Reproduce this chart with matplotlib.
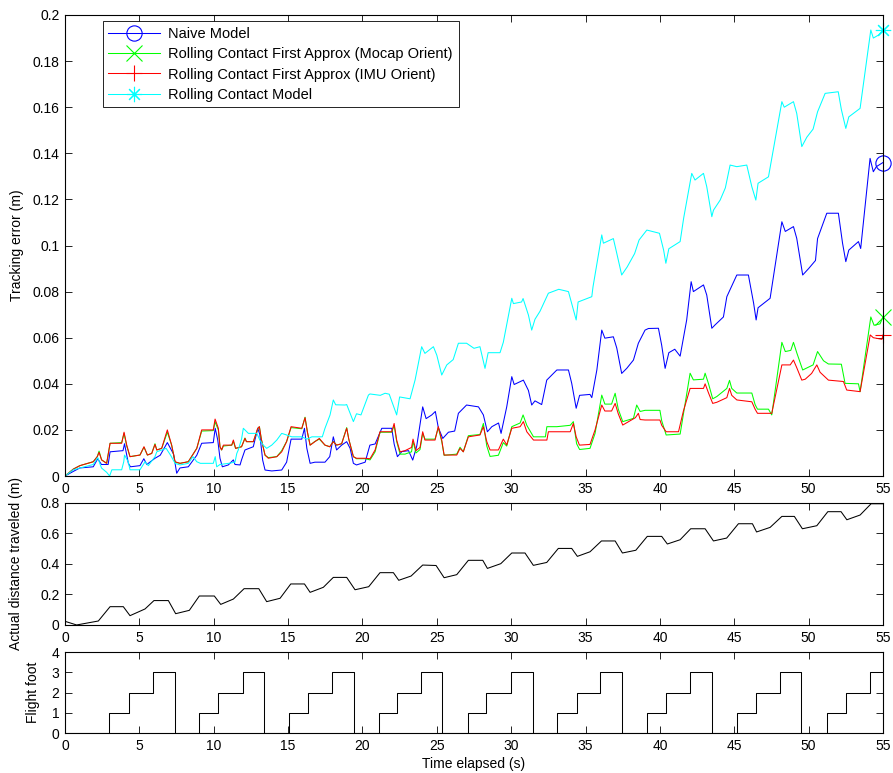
import matplotlib
matplotlib.use('Agg')
import matplotlib.pyplot as plt
from matplotlib.lines import Line2D

plt.rcParams['font.family'] = ['Liberation Sans', 'DejaVu Sans']
plt.rcParams['font.size'] = 10

# ---- tracking error (m) ----
naive_t = [0, 0.56, 1.0, 1.9, 2.2, 2.45, 2.9, 3.03, 3.9, 4.0, 4.26, 4.4, 5.04, 5.3, 5.5, 6.05, 6.4, 6.88,
           7.3, 7.51, 7.73, 8.29, 8.86, 9.19, 9.97, 10.1, 10.27, 10.42, 10.58, 10.98, 11.32, 11.43, 11.77,
           11.87, 12.1, 12.66, 12.96, 13.1, 13.29, 13.45, 13.9, 14.57, 14.9, 15.2, 15.92, 16.1, 16.26, 16.48,
           16.8, 17.48, 17.8, 18.04, 18.26, 18.6, 18.94, 19.17, 19.39, 19.6, 20.18, 20.5, 20.85, 21.3, 21.97,
           22.13, 22.35, 22.65, 23.1, 23.38, 23.65, 24.05, 24.28, 24.66, 24.9, 25.1, 25.4, 25.78, 26.2, 26.45,
           27.0, 27.8, 28.13, 28.4, 28.7, 29.15, 29.32, 29.7, 30.04, 30.2, 30.82, 31.16, 31.38, 31.6, 32.05,
           32.39, 33.07, 33.85, 34.07, 34.37, 34.6, 35.3, 35.42, 35.76, 36.09, 36.3, 36.87, 37.1, 37.43, 37.77,
           38.22, 38.55, 39.0, 39.23, 39.9, 40.12, 40.35, 40.6, 41.0, 41.36, 41.8, 42.1, 42.25, 42.93, 43.15,
           43.49, 43.7, 44.27, 44.5, 45.17, 45.95, 46.3, 46.47, 46.6, 47.41, 48.2, 48.43, 48.98, 49.2, 49.6,
           50.0, 50.46, 50.6, 51.22, 52.0, 52.28, 52.5, 52.7, 53.35, 53.5, 54.13, 54.35, 54.55, 55.0]
naive_err = [0, 0.002, 0.0035, 0.004, 0.0075, 0.005, 0.005, 0.0105, 0.011, 0.014, 0.0055, 0.004, 0.0045,
             0.0075, 0.005, 0.0077, 0.009, 0.0145, 0.0095, 0.0012, 0.0035, 0.004, 0.009, 0.0142, 0.0145, 0.0207,
             0.0156, 0.0077, 0.004, 0.0048, 0.007, 0.005, 0.0048, 0.007, 0.0113, 0.0127, 0.0207, 0.018, 0.0069,
             0.0026, 0.0022, 0.0026, 0.006, 0.016, 0.016, 0.0207, 0.012, 0.0055, 0.006, 0.006, 0.0084, 0.017,
             0.0113, 0.0134, 0.0149, 0.012, 0.0055, 0.0048, 0.006, 0.0134, 0.0139, 0.0207, 0.0207, 0.0139,
             0.0084, 0.0106, 0.011, 0.0069, 0.013, 0.030, 0.0249, 0.0265, 0.028, 0.021, 0.0163, 0.019, 0.0195,
             0.0272, 0.0308, 0.030, 0.0265, 0.0192, 0.0214, 0.023, 0.0185, 0.030, 0.0431, 0.0397, 0.0416,
             0.0371, 0.0308, 0.0326, 0.031, 0.0416, 0.046, 0.046, 0.0402, 0.0294, 0.035, 0.0354, 0.034, 0.046,
             0.0633, 0.0598, 0.0604, 0.0555, 0.0445, 0.0467, 0.0503, 0.0576, 0.0633, 0.064, 0.0641, 0.0567,
             0.0467, 0.0535, 0.055, 0.052, 0.0677, 0.0843, 0.080, 0.0829, 0.0785, 0.0641, 0.0655, 0.069, 0.0778,
             0.0872, 0.0872, 0.075, 0.0677, 0.073, 0.0771, 0.1103, 0.1061, 0.1082, 0.1031, 0.0872, 0.090,
             0.0935, 0.103, 0.114, 0.114, 0.101, 0.093, 0.098, 0.1017, 0.0987, 0.1378, 0.132, 0.1342, 0.136]

mocap_t = [0, 0.56, 1.0, 1.9, 2.17, 2.29, 2.46, 2.8, 3.03, 3.81, 3.97, 4.15, 4.37, 5.04, 5.31, 5.54, 5.83,
           6.05, 6.17, 6.5, 6.88, 7.17, 7.4, 7.73, 8.29, 8.86, 9.19, 9.97, 10.09, 10.31, 10.42, 10.53, 10.65,
           11.21, 11.32, 11.47, 11.87, 12.1, 12.2, 12.66, 12.96, 13.07, 13.2, 13.45, 13.67, 14.24, 14.57, 14.9,
           15.2, 15.92, 16.14, 16.3, 16.48, 16.8, 17.1, 17.48, 17.8, 18.04, 18.26, 18.6, 18.94, 19.08, 19.39,
           19.6, 20.18, 20.51, 20.85, 21.18, 21.97, 22.13, 22.3, 22.53, 22.86, 23.3, 23.4, 23.6, 23.87, 24.05,
           24.2, 24.88, 25.1, 25.33, 25.49, 26.34, 26.56, 26.78, 27.12, 27.9, 28.13, 28.36, 28.58, 29.14, 29.2,
           29.47, 29.7, 30.04, 30.6, 30.8, 31.05, 31.5, 32.3, 32.4, 33.07, 33.97, 34.18, 34.4, 34.6, 35.3,
           35.64, 36.09, 36.3, 36.75, 36.99, 37.2, 37.5, 38.22, 38.44, 38.67, 39.0, 40.0, 40.12, 40.42, 41.36,
           42.03, 42.25, 42.93, 43.04, 43.27, 43.55, 43.83, 44.5, 44.68, 44.83, 45.17, 46.18, 46.4, 46.56, 47.3,
           47.52, 48.2, 48.43, 48.8, 48.98, 49.2, 49.6, 50.3, 50.6, 51.0, 51.33, 52.2, 52.45, 53.35, 53.46,
           54.18, 54.4, 54.8, 55.0]
mocap_err = [0, 0.003, 0.0045, 0.0062, 0.0084, 0.0108, 0.007, 0.0055, 0.0142, 0.0145, 0.0185, 0.013, 0.0084,
             0.0091, 0.0125, 0.0091, 0.0098, 0.014, 0.0113, 0.012, 0.019, 0.0134, 0.006, 0.0055, 0.0062, 0.012,
             0.0195, 0.0197, 0.0235, 0.020, 0.0127, 0.0113, 0.013, 0.0134, 0.015, 0.012, 0.0127, 0.0165, 0.0149,
             0.0149, 0.0205, 0.0214, 0.016, 0.009, 0.008, 0.0084, 0.011, 0.015, 0.021, 0.0205, 0.0255, 0.019,
             0.0134, 0.015, 0.016, 0.0134, 0.0127, 0.015, 0.0134, 0.014, 0.021, 0.016, 0.0084, 0.0075, 0.0075,
             0.007, 0.0105, 0.019, 0.019, 0.022, 0.015, 0.0095, 0.0095, 0.0105, 0.015, 0.010, 0.0115, 0.0185,
             0.016, 0.016, 0.021, 0.015, 0.009, 0.0095, 0.0125, 0.0105, 0.0175, 0.018, 0.0228, 0.013, 0.0085,
             0.009, 0.010, 0.0145, 0.013, 0.0214, 0.023, 0.0265, 0.022, 0.017, 0.017, 0.0214, 0.0214, 0.022,
             0.0236, 0.014, 0.0115, 0.012, 0.0185, 0.0351, 0.0312, 0.0312, 0.0359, 0.029, 0.0236, 0.025, 0.0308,
             0.028, 0.0285, 0.0285, 0.024, 0.0178, 0.0182, 0.0446, 0.0417, 0.042, 0.0446, 0.040, 0.0335, 0.0345,
             0.038, 0.0415, 0.038, 0.036, 0.036, 0.031, 0.029, 0.029, 0.0265, 0.058, 0.054, 0.0545, 0.058,
             0.0535, 0.046, 0.0482, 0.054, 0.050, 0.0486, 0.0485, 0.0402, 0.040, 0.0366, 0.069, 0.0654, 0.066,
             0.069]

imu_t = [0, 0.56, 1.0, 1.9, 2.17, 2.29, 2.46, 2.8, 3.03, 3.81, 3.97, 4.15, 4.37, 5.04, 5.31, 5.54, 5.83,
         6.05, 6.17, 6.5, 6.88, 7.17, 7.4, 7.73, 8.29, 8.86, 9.19, 9.97, 10.09, 10.31, 10.42, 10.53, 10.65,
         11.21, 11.32, 11.47, 11.87, 12.1, 12.2, 12.66, 12.96, 13.07, 13.2, 13.45, 13.67, 14.24, 14.57, 14.9,
         15.2, 15.92, 16.14, 16.3, 16.48, 16.8, 17.1, 17.48, 17.8, 18.04, 18.26, 18.6, 18.94, 19.08, 19.39,
         19.6, 20.18, 20.51, 20.85, 21.18, 21.97, 22.13, 22.3, 22.53, 22.86, 23.3, 23.4, 23.6, 23.87, 24.05,
         24.2, 24.88, 25.1, 25.33, 25.49, 26.34, 26.56, 26.78, 27.12, 27.9, 28.13, 28.36, 28.58, 29.14, 29.47,
         29.7, 30.04, 30.6, 30.82, 31.05, 31.5, 32.4, 32.5, 33.97, 34.18, 34.37, 34.59, 35.3, 35.64, 36.09,
         36.3, 36.75, 36.99, 37.2, 37.5, 37.9, 38.35, 38.55, 38.67, 39.0, 40.0, 40.12, 40.42, 41.25, 41.58,
         42.03, 42.93, 43.04, 43.27, 43.55, 43.83, 44.5, 44.68, 44.83, 45.17, 46.18, 46.4, 46.56, 47.52, 48.2,
         48.76, 48.98, 49.2, 49.54, 49.77, 50.2, 50.55, 50.77, 51.33, 52.34, 52.56, 53.46, 53.8, 54.14, 54.35,
         54.93, 55.0]
imu_err = [0, 0.003, 0.0045, 0.0062, 0.0084, 0.0103, 0.007, 0.0055, 0.0142, 0.0142, 0.019, 0.0134, 0.0084,
           0.0091, 0.0127, 0.0091, 0.0098, 0.0137, 0.0113, 0.012, 0.020, 0.0134, 0.0062, 0.0055, 0.0062, 0.012,
           0.020, 0.020, 0.0247, 0.0207, 0.0127, 0.0113, 0.0134, 0.0134, 0.0156, 0.012, 0.0127, 0.0163, 0.0149,
           0.0149, 0.0207, 0.0214, 0.016, 0.0091, 0.0077, 0.0084, 0.0105, 0.0149, 0.0214, 0.0207, 0.0253,
           0.019, 0.0134, 0.0149, 0.0163, 0.0134, 0.0127, 0.0149, 0.0134, 0.014, 0.0207, 0.016, 0.0084, 0.0077,
           0.0077, 0.0075, 0.0113, 0.0192, 0.0192, 0.0228, 0.0156, 0.0105, 0.011, 0.0124, 0.016, 0.011, 0.0124,
           0.0192, 0.0156, 0.0156, 0.0214, 0.0156, 0.0091, 0.0091, 0.012, 0.0105, 0.017, 0.0178, 0.0214,
           0.0149, 0.0113, 0.0113, 0.016, 0.0135, 0.0207, 0.0214, 0.0236, 0.0192, 0.0156, 0.0156, 0.0192,
           0.0192, 0.0228, 0.017, 0.0134, 0.0137, 0.020, 0.0308, 0.0282, 0.0282, 0.0315, 0.027, 0.0221, 0.0236,
           0.0253, 0.0272, 0.0245, 0.0243, 0.0243, 0.022, 0.0192, 0.0192, 0.0282, 0.038, 0.038, 0.040, 0.036,
           0.0315, 0.032, 0.034, 0.038, 0.035, 0.033, 0.0322, 0.029, 0.0272, 0.0272, 0.0482, 0.0482, 0.0503,
           0.047, 0.0416, 0.042, 0.0445, 0.0482, 0.045, 0.0416, 0.041, 0.0373, 0.0366, 0.049, 0.0612, 0.060,
           0.0593, 0.0612]

rolling_t = [0, 0.56, 1.9, 2.2, 2.45, 2.8, 3.0, 3.15, 3.81, 3.95, 4.0, 4.25, 4.37, 5.04, 5.38, 5.6, 6.05,
             6.17, 6.8, 7.1, 7.4, 7.73, 8.29, 8.6, 8.86, 9.1, 9.97, 10.1, 10.2, 10.42, 11.0, 11.43, 11.55, 11.65,
             11.87, 11.99, 12.33, 12.9, 13.1, 13.33, 13.56, 13.9, 14.24, 14.57, 14.9, 15.25, 15.92, 16.26, 16.6,
             17.3, 17.48, 17.82, 18.04, 18.2, 18.83, 18.94, 19.39, 19.6, 19.9, 20.4, 20.5, 21.2, 21.52, 21.8,
             22.3, 22.5, 23.2, 23.54, 23.98, 24.2, 24.77, 25.0, 25.33, 25.67, 26.1, 26.45, 27.0, 27.5, 27.9,
             28.24, 28.45, 29.25, 29.47, 30.04, 30.15, 30.7, 30.8, 31.16, 31.38, 31.6, 31.94, 32.5, 33.2, 33.85,
             34.07, 34.37, 34.5, 35.42, 35.5, 36.09, 36.2, 36.87, 37.1, 37.43, 37.8, 38.3, 38.6, 39.12, 39.97,
             40.25, 40.4, 40.6, 41.36, 41.6, 42.14, 42.36, 42.93, 43.15, 43.49, 43.6, 44.05, 44.4, 44.72, 45.17,
             45.84, 46.18, 46.45, 46.6, 47.3, 48.2, 48.36, 48.98, 49.2, 49.54, 49.88, 50.3, 50.6, 51.11, 51.99,
             52.2, 52.5, 52.7, 53.46, 54.18, 54.35, 54.7, 55.0]
rolling_err = [0, 0.0027, 0.005, 0.008, 0.0035, 0.0016, 0.0, 0.0027, 0.0027, 0.0062, 0.0091, 0.0062, 0.0027,
               0.0027, 0.0062, 0.0045, 0.0084, 0.0105, 0.012, 0.009, 0.0055, 0.0048, 0.0055, 0.0084, 0.0062,
               0.0055, 0.0055, 0.0084, 0.004, 0.005, 0.0055, 0.006, 0.0098, 0.0113, 0.016, 0.0207, 0.0185,
               0.0185, 0.0156, 0.0134, 0.012, 0.0134, 0.0156, 0.0185, 0.0178, 0.017, 0.017, 0.016, 0.017, 0.017,
               0.0207, 0.0265, 0.033, 0.0309, 0.0308, 0.031, 0.0236, 0.027, 0.0265, 0.0351, 0.0356, 0.035,
               0.0359, 0.0355, 0.0265, 0.0343, 0.0335, 0.0417, 0.0561, 0.0532, 0.0561, 0.0524, 0.0438, 0.0482,
               0.0505, 0.0576, 0.0576, 0.0554, 0.0561, 0.0467, 0.0535, 0.0535, 0.058, 0.0771, 0.0748, 0.0755,
               0.077, 0.0698, 0.0633, 0.068, 0.0715, 0.0793, 0.081, 0.080, 0.0748, 0.0677, 0.0755, 0.0778, 0.082,
               0.1046, 0.101, 0.103, 0.0966, 0.0872, 0.0907, 0.0965, 0.1024, 0.1067, 0.1053, 0.098, 0.0923,
               0.0986, 0.1017, 0.112, 0.1313, 0.1284, 0.1313, 0.1255, 0.1125, 0.1153, 0.1197, 0.125, 0.1349,
               0.1342, 0.1349, 0.1255, 0.1197, 0.127, 0.1298, 0.1624, 0.160, 0.1624, 0.1573, 0.1429, 0.147,
               0.1505, 0.158, 0.166, 0.1667, 0.159, 0.1508, 0.1558, 0.1595, 0.1935, 0.190, 0.1913, 0.1935]

# ---- actual distance traveled (m) ----
dist_t = [0, 0.78, 2.24, 3.03, 3.92, 4.37, 5.38, 5.98, 6.95, 7.44, 8.36, 9.03, 10.04, 10.47, 11.32, 12.04,
          13.03, 13.56, 14.46, 15.18, 16.1, 16.48, 17.37, 18.04, 18.94, 19.5, 20.42, 21.18, 22.08, 22.44, 23.27,
          24.05, 24.95, 25.49, 26.34, 27.12, 28.09, 28.4, 29.3, 30.04, 30.93, 31.49, 32.39, 33.17, 34.07, 34.45,
          35.3, 36.07, 36.99, 37.48, 38.38, 39.15, 40.12, 40.5, 41.36, 42.07, 43.04, 43.6, 44.49, 45.28, 46.22,
          46.5, 47.41, 48.2, 49.04, 49.58, 50.55, 51.29, 52.18, 52.57, 53.46, 54.2, 55.0]
dist_m = [0.024, 0.0, 0.026, 0.12, 0.12, 0.061, 0.105, 0.16, 0.16, 0.074, 0.096, 0.19, 0.19, 0.135, 0.17,
          0.238, 0.238, 0.153, 0.175, 0.269, 0.269, 0.214, 0.247, 0.312, 0.312, 0.231, 0.251, 0.343, 0.343,
          0.293, 0.321, 0.393, 0.39, 0.31, 0.33, 0.424, 0.424, 0.371, 0.402, 0.472, 0.472, 0.391, 0.41, 0.502,
          0.502, 0.45, 0.48, 0.551, 0.551, 0.472, 0.49, 0.581, 0.581, 0.531, 0.559, 0.631, 0.631, 0.551, 0.57,
          0.664, 0.664, 0.61, 0.64, 0.712, 0.712, 0.631, 0.651, 0.743, 0.743, 0.69, 0.721, 0.795, 0.795]

# ---- flight foot ----
foot_t = [0, 2.96, 4.28, 5.9, 7.42, 9.03, 10.31, 11.95, 13.4, 15.09, 16.36, 17.98, 19.41, 21.09, 22.33,
          23.94, 25.37, 27.08, 28.31, 29.97, 31.45, 33.1, 34.4, 35.99, 37.46, 39.14, 40.4, 42.01, 43.49, 45.19,
          46.45, 48.06, 49.52, 51.24, 52.52, 54.11, 55.0]
foot_id = [0, 1, 2, 3, 0, 1, 2, 3, 0, 1, 2, 3, 0, 1, 2, 3, 0, 1, 2, 3, 0, 1, 2, 3, 0, 1, 2, 3, 0, 1, 2, 3,
           0, 1, 2, 3, 3]

labels = ['Naive Model', 'Rolling Contact First Approx (Mocap Orient)',
          'Rolling Contact First Approx (IMU Orient)', 'Rolling Contact Model']

fig = plt.figure(figsize=(8.93, 7.73), dpi=100)
ax1 = fig.add_axes([0.0728, 0.3842, 0.916, 0.5964])
ax2 = fig.add_axes([0.0728, 0.1915, 0.916, 0.1578])
ax3 = fig.add_axes([0.0728, 0.0517, 0.916, 0.1048])

asterisk = (8, 2, 0)
series = [(naive_t, naive_err, '#0000ff', 'o'), (mocap_t, mocap_err, '#00ff00', 'x'),
          (imu_t, imu_err, '#ff0000', '+'), (rolling_t, rolling_err, '#00ffff', asterisk)]
handles = []
for (t, v, col, mk), lab in zip(series, labels):
    ax1.plot(t, v, color=col, lw=0.75)
    ax1.plot(t[-1], v[-1], marker=mk, color=col, ms=11, mfc='none', mew=0.8, clip_on=False)
    handles.append(Line2D([], [], color=col, lw=0.75, marker=mk, ms=11, mfc='none', mew=0.8))

leg = ax1.legend(handles, labels, loc='upper left', bbox_to_anchor=(0.046, 0.986), fancybox=False,
                 edgecolor='black', framealpha=1, handlelength=3.5, borderpad=0.4, labelspacing=0.42,
                 handletextpad=0.6, borderaxespad=0.0, fontsize=10.5)
leg.get_frame().set_linewidth(0.6)

ax1.set_xlim(0, 55)
ax1.set_ylim(0, 0.2)
ax1.set_yticks([0, 0.02, 0.04, 0.06, 0.08, 0.1, 0.12, 0.14, 0.16, 0.18, 0.2])
ax1.set_yticklabels(['0', '0.02', '0.04', '0.06', '0.08', '0.1', '0.12', '0.14', '0.16', '0.18', '0.2'])
ax1.set_ylabel('Tracking error (m)', labelpad=6)

ax2.plot(dist_t, dist_m, color='k', lw=0.75)
ax2.set_xlim(0, 55)
ax2.set_ylim(0, 0.8)
ax2.set_yticks([0, 0.2, 0.4, 0.6, 0.8])
ax2.set_yticklabels(['0', '0.2', '0.4', '0.6', '0.8'])
ax2.set_ylabel('Actual distance traveled (m)', labelpad=12)

ax3.step(foot_t, foot_id, where='post', color='k', lw=0.75)
ax3.set_xlim(0, 55)
ax3.set_ylim(0, 4)
ax3.set_yticks([0, 1, 2, 3, 4])
ax3.set_ylabel('Flight foot', labelpad=8)
ax3.set_xlabel('Time elapsed (s)', labelpad=3)

for ax in (ax1, ax2, ax3):
    ax.set_xticks(range(0, 56, 5))
    ax.tick_params(direction='in', top=True, right=True, length=5, width=0.6, labelsize=10)
    ax.tick_params(axis='x', pad=4)
    ax.tick_params(axis='y', pad=4)
    for s in ax.spines.values():
        s.set_linewidth(0.8)

fig.savefig('out.png', dpi=100)
